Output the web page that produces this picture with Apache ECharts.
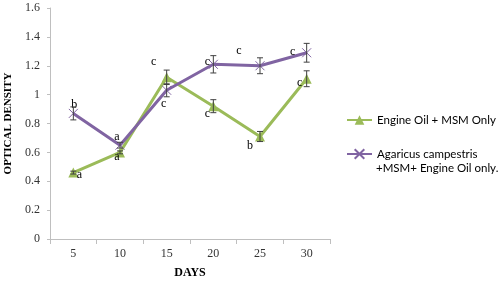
<!DOCTYPE html>
<html>
<head>
<meta charset="utf-8">
<script src="https://cdn.jsdelivr.net/npm/echarts@6/dist/echarts.min.js"></script>
<style>html,body{margin:0;padding:0;background:#fff}#c{width:500px;height:284px}</style>
</head>
<body>
<div id="c"></div>
<script>
var days = ['5', '10', '15', '20', '25', '30'];
var oilName = 'Engine Oil + MSM Only';
var agaName = 'Agaricus campestris';
var agaName2 = '+MSM+ Engine Oil only.';
var oilValues = [0.46, 0.60, 1.12, 0.92, 0.71, 1.11];
var oilErrors = [0.01, 0.01, 0.05, 0.045, 0.035, 0.055];
var oilLetters = ['a', 'a', 'c', 'c', 'b', 'c'];
var agaValues = [0.87, 0.65, 1.03, 1.21, 1.20, 1.29];
var agaErrors = [0.045, 0.02, 0.045, 0.06, 0.055, 0.065];
var agaLetters = ['b', 'a', 'c', 'c', 'c', 'c'];

// where each letter sits relative to its point [dx, dy]
var oilLetterOffset = [[6, 2], [-3, 4], [-13, -15], [-6, 8], [-10, 9], [-7, 4]];
var agaLetterOffset = [[1, -9], [-3, -8], [-3, 14], [-6, -2], [-21, -15], [-14, -1]];

var serif = '"Liberation Serif", "DejaVu Serif", serif';
var sans = 'Lato, "Open Sans", sans-serif';
var green = '#9BBB59';
var purple = '#8064A2';
var crossPath = 'path://M0,0L10,10M10,0L0,10';

function withLetters(values, letters, offs) {
  return values.map(function (v, i) {
    return {value: v, label: {show: true, formatter: letters[i], position: 'inside', offset: offs[i]}};
  });
}

function errorSeries(values, errors) {
  return {
    type: 'custom',
    silent: true,
    z: 5,
    data: values.map(function (v, i) { return [i, v - errors[i], v + errors[i]]; }),
    renderItem: function (params, api) {
      var lo = api.coord([api.value(0), api.value(1)]);
      var hi = api.coord([api.value(0), api.value(2)]);
      var w = 3;
      var st = {stroke: '#404040', lineWidth: 1};
      return {type: 'group', children: [
        {type: 'line', shape: {x1: lo[0], y1: lo[1], x2: hi[0], y2: hi[1]}, style: st},
        {type: 'line', shape: {x1: lo[0] - w, y1: lo[1], x2: lo[0] + w, y2: lo[1]}, style: st},
        {type: 'line', shape: {x1: hi[0] - w, y1: hi[1], x2: hi[0] + w, y2: hi[1]}, style: st}
      ]};
    }
  };
}

var legendFont = 11.5;
var legendText = {fontFamily: sans, fontSize: legendFont, color: '#000'};

var chart = echarts.init(document.getElementById('c'), null, {renderer: 'canvas'});
chart.setOption({
  animation: false,
  textStyle: {fontFamily: serif},
  grid: {left: 50, right: 170, top: 8, bottom: 45, outerBoundsMode: 'none'},
  legend: [
    {
      left: 346, top: 114, padding: 0, itemWidth: 25, itemHeight: 12, itemGap: 0,
      textStyle: legendText, data: [oilName]
    },
    {
      left: 346, top: 148, padding: 0, itemWidth: 25, itemHeight: 12, itemGap: 0,
      textStyle: legendText, data: [agaName]
    }
  ],
  graphic: [{
    type: 'text', left: 376, top: 162,
    style: {text: agaName2, font: legendFont + 'px ' + sans, fill: '#000'}
  }],
  xAxis: {
    type: 'category',
    data: days,
    boundaryGap: true,
    name: 'DAYS',
    nameLocation: 'middle',
    nameGap: 28,
    nameTextStyle: {fontFamily: serif, fontWeight: 'bold', fontSize: 12, color: '#000', verticalAlign: 'top'},
    axisLine: {lineStyle: {color: '#BFBFBF'}},
    axisTick: {show: true, length: 5, lineStyle: {color: '#BFBFBF'}},
    axisLabel: {color: '#333', fontSize: 12, fontFamily: serif, margin: 9}
  },
  yAxis: {
    type: 'value',
    min: 0,
    max: 1.6,
    interval: 0.2,
    name: 'OPTICAL DENSITY',
    nameLocation: 'middle',
    nameGap: 30,
    nameTextStyle: {fontFamily: serif, fontWeight: 'bold', fontSize: 11, color: '#000'},
    axisLine: {show: true, lineStyle: {color: '#BFBFBF'}},
    axisTick: {show: true, length: 3, lineStyle: {color: '#BFBFBF'}},
    splitLine: {show: false},
    axisLabel: {color: '#333', fontSize: 12, fontFamily: serif, margin: 10,
      formatter: function (v) { return String(Math.round(v * 10) / 10); }}
  },
  series: [
    {
      name: oilName,
      type: 'line',
      data: withLetters(oilValues, oilLetters, oilLetterOffset),
      symbol: 'triangle',
      symbolSize: 10,
      lineStyle: {color: green, width: 3},
      itemStyle: {color: green},
      label: {color: '#000', fontFamily: serif, fontSize: 12},
      z: 3
    },
    {
      name: agaName,
      type: 'line',
      data: withLetters(agaValues, agaLetters, agaLetterOffset),
      symbol: crossPath,
      symbolSize: 9,
      lineStyle: {color: purple, width: 3},
      itemStyle: {color: purple, borderColor: purple, borderWidth: 1},
      label: {color: '#000', fontFamily: serif, fontSize: 12},
      z: 4
    },
    errorSeries(oilValues, oilErrors),
    errorSeries(agaValues, agaErrors)
  ]
});
</script>
</body>
</html>
